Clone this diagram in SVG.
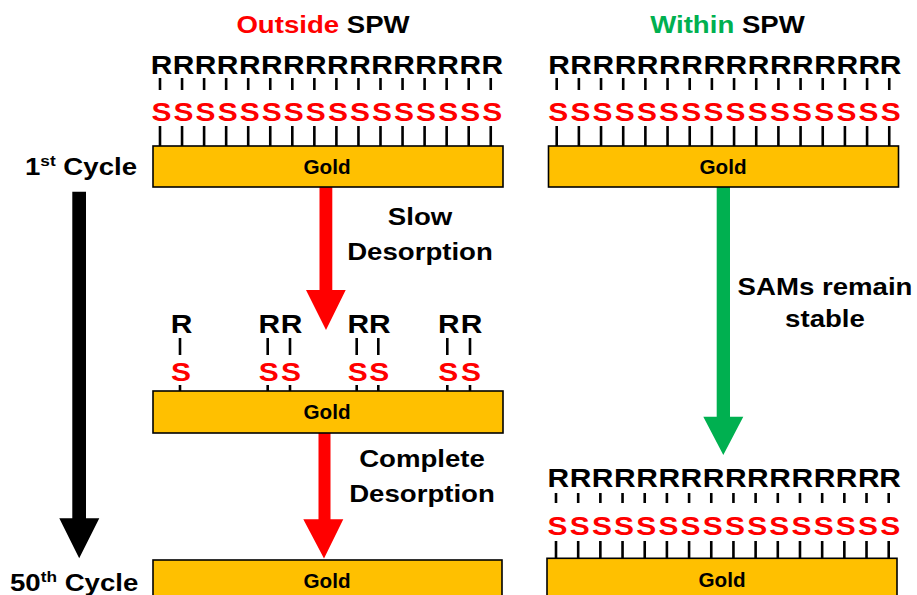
<svg xmlns="http://www.w3.org/2000/svg" xmlns:xlink="http://www.w3.org/1999/xlink" width="917" height="595" viewBox="0 0 917 595">
<style>
text{font-family:"Liberation Sans",Arial,sans-serif;font-weight:bold;}
.lt{font-size:26.5px;}
.lab{font-size:24px;fill:#000;}
.gt{font-size:19.5px;fill:#000;}
.gold{fill:#FFC000;stroke:#000;stroke-width:1.6;}
.tick{stroke:#000;stroke-width:2.6;fill:none;}
</style>
<defs>
<text id="R" class="lt" fill="#000" text-anchor="middle" transform="scale(1.13 1)">R</text>
<text id="S" class="lt" fill="#FF0000" text-anchor="middle" transform="scale(1.13 1)">S</text>
</defs>
<rect width="917" height="595" fill="#fff"/>

<g id="title-outside" transform="translate(323 33) scale(1.15 1)"><text class="lab" font-size="24.5" text-anchor="middle"><tspan fill="#FF0000">Outside</tspan> SPW</text></g>
<g id="title-within" transform="translate(727.5 33) scale(1.15 1)"><text class="lab" font-size="24.5" text-anchor="middle"><tspan fill="#00B050">Within</tspan> SPW</text></g>

<g id="label-1st" transform="translate(25 175) scale(1.15 1)"><text class="lab">1<tspan font-size="15" dy="-9">st</tspan><tspan dy="9"> Cycle</tspan></text></g>
<g id="label-50th" transform="translate(10 590.7) scale(1.15 1)"><text class="lab">50<tspan font-size="15" dy="-9">th</tspan><tspan dy="9"> Cycle</tspan></text></g>

<g id="connectors">
<polygon fill="#000" points="72.3,191.7 86,191.7 86,518.3 99.3,518.3 79.2,558.3 59.3,518.3 72.3,518.3"/>
<polygon fill="#FF0000" points="319.5,187 332.3,187 332.3,290 345.7,290 326,330 306,290 319.5,290"/>
<polygon fill="#FF0000" points="318.5,433 330.5,433 330.5,519.3 343.3,519.3 324,558.5 303.3,519.3 318.5,519.3"/>
<polygon fill="#00B050" points="716.7,187 730,187 730,416.7 743.3,416.7 723.3,455 703.3,416.7 716.7,416.7"/>
</g>

<g id="label-slow">
<g transform="translate(420 225) scale(1.15 1)"><text class="lab" text-anchor="middle">Slow</text></g>
<g transform="translate(420 260) scale(1.15 1)"><text class="lab" text-anchor="middle">Desorption</text></g>
</g>
<g id="label-complete">
<g transform="translate(422 466.7) scale(1.15 1)"><text class="lab" text-anchor="middle">Complete</text></g>
<g transform="translate(422 501.7) scale(1.15 1)"><text class="lab" text-anchor="middle">Desorption</text></g>
</g>
<g id="label-stable">
<g transform="translate(825 295) scale(1.15 1)"><text class="lab" text-anchor="middle">SAMs remain</text></g>
<g transform="translate(825 326.7) scale(1.15 1)"><text class="lab" text-anchor="middle">stable</text></g>
</g>

<!-- Top left SAM -->
<g id="sam-outside-1">
<path class="tick" d="M160 78V90M182.05 78V90M204.1 78V90M226.15 78V90M248.2 78V90M270.25 78V90M292.3 78V90M314.35 78V90M336.4 78V90M358.45 78V90M380.5 78V90M402.55 78V90M424.6 78V90M446.65 78V90M468.7 78V90M490.75 78V90"/>
<path class="tick" d="M160 126V146M182.05 126V146M204.1 126V146M226.15 126V146M248.2 126V146M270.25 126V146M292.3 126V146M314.35 126V146M336.4 126V146M358.45 126V146M380.5 126V146M402.55 126V146M424.6 126V146M446.65 126V146M468.7 126V146M490.75 126V146"/>
<use href="#R" x="161.5" y="74"/><use href="#R" x="183.55" y="74"/><use href="#R" x="205.6" y="74"/><use href="#R" x="227.65" y="74"/><use href="#R" x="249.7" y="74"/><use href="#R" x="271.75" y="74"/><use href="#R" x="293.8" y="74"/><use href="#R" x="315.85" y="74"/><use href="#R" x="337.9" y="74"/><use href="#R" x="359.95" y="74"/><use href="#R" x="382" y="74"/><use href="#R" x="404.05" y="74"/><use href="#R" x="426.1" y="74"/><use href="#R" x="448.15" y="74"/><use href="#R" x="470.2" y="74"/><use href="#R" x="492.25" y="74"/>
<use href="#S" x="161.5" y="120.7"/><use href="#S" x="183.55" y="120.7"/><use href="#S" x="205.6" y="120.7"/><use href="#S" x="227.65" y="120.7"/><use href="#S" x="249.7" y="120.7"/><use href="#S" x="271.75" y="120.7"/><use href="#S" x="293.8" y="120.7"/><use href="#S" x="315.85" y="120.7"/><use href="#S" x="337.9" y="120.7"/><use href="#S" x="359.95" y="120.7"/><use href="#S" x="382" y="120.7"/><use href="#S" x="404.05" y="120.7"/><use href="#S" x="426.1" y="120.7"/><use href="#S" x="448.15" y="120.7"/><use href="#S" x="470.2" y="120.7"/><use href="#S" x="492.25" y="120.7"/>
<rect class="gold" x="153" y="146" width="350" height="41"/>
<g transform="translate(327 174) scale(1.06 1)"><text class="gt" text-anchor="middle">Gold</text></g>
</g>

<!-- Top right SAM -->
<g id="sam-within-1">
<path class="tick" d="M556.7 78V90M578.87 78V90M601.04 78V90M623.21 78V90M645.38 78V90M667.55 78V90M689.72 78V90M711.89 78V90M734.06 78V90M756.23 78V90M778.4 78V90M800.57 78V90M822.74 78V90M844.91 78V90M867.08 78V90M889.25 78V90"/>
<path class="tick" d="M556.7 126V146M578.87 126V146M601.04 126V146M623.21 126V146M645.38 126V146M667.55 126V146M689.72 126V146M711.89 126V146M734.06 126V146M756.23 126V146M778.4 126V146M800.57 126V146M822.74 126V146M844.91 126V146M867.08 126V146M889.25 126V146"/>
<use href="#R" x="559" y="74"/><use href="#R" x="581.17" y="74"/><use href="#R" x="603.34" y="74"/><use href="#R" x="625.51" y="74"/><use href="#R" x="647.68" y="74"/><use href="#R" x="669.85" y="74"/><use href="#R" x="692.02" y="74"/><use href="#R" x="714.19" y="74"/><use href="#R" x="736.36" y="74"/><use href="#R" x="758.53" y="74"/><use href="#R" x="780.7" y="74"/><use href="#R" x="802.87" y="74"/><use href="#R" x="825.04" y="74"/><use href="#R" x="847.21" y="74"/><use href="#R" x="869.38" y="74"/><use href="#R" x="890.5" y="74"/>
<use href="#S" x="558.2" y="120.7"/><use href="#S" x="580.37" y="120.7"/><use href="#S" x="602.54" y="120.7"/><use href="#S" x="624.71" y="120.7"/><use href="#S" x="646.88" y="120.7"/><use href="#S" x="669.05" y="120.7"/><use href="#S" x="691.22" y="120.7"/><use href="#S" x="713.39" y="120.7"/><use href="#S" x="735.56" y="120.7"/><use href="#S" x="757.73" y="120.7"/><use href="#S" x="779.9" y="120.7"/><use href="#S" x="802.07" y="120.7"/><use href="#S" x="824.24" y="120.7"/><use href="#S" x="846.41" y="120.7"/><use href="#S" x="868.58" y="120.7"/><use href="#S" x="890.75" y="120.7"/>
<rect class="gold" x="548.5" y="146" width="350" height="41"/>
<g transform="translate(723 174) scale(1.06 1)"><text class="gt" text-anchor="middle">Gold</text></g>
</g>

<!-- Middle left SAM -->
<g id="sam-outside-2">
<path class="tick" d="M180 338V355M267.7 338V355M290 338V355M356.7 338V355M378.3 338V355M447.3 338V355M470 338V355"/>
<path class="tick" d="M180 385V391M267.7 385V391M290 385V391M356.7 385V391M378.3 385V391M447.3 385V391M470 385V391"/>
<use href="#R" x="181.5" y="333"/><use href="#R" x="269.2" y="333"/><use href="#R" x="291.5" y="333"/><use href="#R" x="358.2" y="333"/><use href="#R" x="379.8" y="333"/><use href="#R" x="448.8" y="333"/><use href="#R" x="471.5" y="333"/>
<use href="#S" x="181" y="380.7"/><use href="#S" x="268.7" y="380.7"/><use href="#S" x="291" y="380.7"/><use href="#S" x="357.7" y="380.7"/><use href="#S" x="379.3" y="380.7"/><use href="#S" x="448.3" y="380.7"/><use href="#S" x="471" y="380.7"/>
<rect class="gold" x="153" y="391" width="350" height="42"/>
<g transform="translate(327 418.5) scale(1.06 1)"><text class="gt" text-anchor="middle">Gold</text></g>
</g>

<!-- Bottom left gold -->
<g id="sam-outside-3">
<rect class="gold" x="153" y="560" width="349" height="42"/>
<g transform="translate(327 587.5) scale(1.06 1)"><text class="gt" text-anchor="middle">Gold</text></g>
</g>

<!-- Bottom right SAM -->
<g id="sam-within-2">
<path class="tick" d="M556 493V503M578.18 493V503M600.36 493V503M622.54 493V503M644.72 493V503M666.9 493V503M689.08 493V503M711.26 493V503M733.44 493V503M755.62 493V503M777.8 493V503M799.98 493V503M822.16 493V503M844.34 493V503M866.52 493V503M888.7 493V503"/>
<path class="tick" d="M556 541V558M578.18 541V558M600.36 541V558M622.54 541V558M644.72 541V558M666.9 541V558M689.08 541V558M711.26 541V558M733.44 541V558M755.62 541V558M777.8 541V558M799.98 541V558M822.16 541V558M844.34 541V558M866.52 541V558M888.7 541V558"/>
<use href="#R" x="558.3" y="487.3"/><use href="#R" x="580.48" y="487.3"/><use href="#R" x="602.66" y="487.3"/><use href="#R" x="624.84" y="487.3"/><use href="#R" x="647.02" y="487.3"/><use href="#R" x="669.2" y="487.3"/><use href="#R" x="691.38" y="487.3"/><use href="#R" x="713.56" y="487.3"/><use href="#R" x="735.74" y="487.3"/><use href="#R" x="757.92" y="487.3"/><use href="#R" x="780.1" y="487.3"/><use href="#R" x="802.28" y="487.3"/><use href="#R" x="824.46" y="487.3"/><use href="#R" x="846.64" y="487.3"/><use href="#R" x="868.82" y="487.3"/><use href="#R" x="890" y="487.3"/>
<use href="#S" x="557.5" y="535"/><use href="#S" x="579.68" y="535"/><use href="#S" x="601.86" y="535"/><use href="#S" x="624.04" y="535"/><use href="#S" x="646.22" y="535"/><use href="#S" x="668.4" y="535"/><use href="#S" x="690.58" y="535"/><use href="#S" x="712.76" y="535"/><use href="#S" x="734.94" y="535"/><use href="#S" x="757.12" y="535"/><use href="#S" x="779.3" y="535"/><use href="#S" x="801.48" y="535"/><use href="#S" x="823.66" y="535"/><use href="#S" x="845.84" y="535"/><use href="#S" x="868.02" y="535"/><use href="#S" x="890.2" y="535"/>
<rect class="gold" x="547" y="558.3" width="350" height="43"/>
<g transform="translate(722 587) scale(1.06 1)"><text class="gt" text-anchor="middle">Gold</text></g>
</g>
</svg>
